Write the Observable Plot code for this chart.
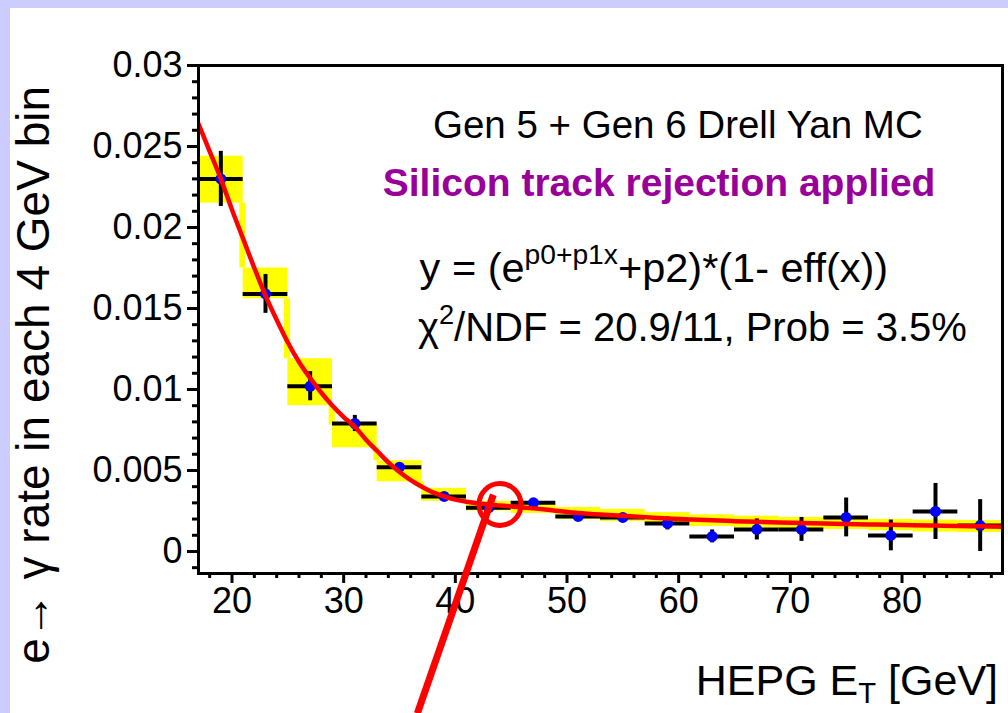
<!DOCTYPE html>
<html><head><meta charset="utf-8">
<script src="https://cdn.jsdelivr.net/npm/d3@7"></script>
<script src="https://cdn.jsdelivr.net/npm/@observablehq/plot@0.6"></script>
<style>
html,body{margin:0;padding:0}
body{background:#ccccff;width:1008px;height:713px;overflow:hidden;position:relative}
#panel{position:absolute;left:10px;top:8px;width:998px;height:705px;background:#fff}
#panel svg{overflow:visible}
</style></head><body><div id="panel"></div>
<script>
// ---- data ----
const binCenters = [19, 23, 27, 31, 35, 39, 43, 47, 51, 55, 59, 63, 67, 71, 75, 79, 83, 87];
const binHalfWidth = 2;
const rates      = [0.0230, 0.0159, 0.0102, 0.0079, 0.0052, 0.0034, 0.0027, 0.0030, 0.00216, 0.0021, 0.00173, 0.00093, 0.00136, 0.00136, 0.0021, 0.00099, 0.00247, 0.0016];
const rateErrors = [0.0017, 0.0012, 0.0009, 0.0005, 0.0002, 0.0002, 0.0002, 0.0002, 0.0002, 0.0002, 0.0004, 0.0004, 0.00065, 0.00074, 0.0012, 0.00095, 0.00173, 0.0016];
const bandLow  = [0.0215, 0.0156, 0.0090, 0.0064, 0.0043, 0.0031, 0.0025, 0.00235, 0.00198, 0.00185, 0.00167, 0.00154, 0.00146, 0.00142, 0.00136, 0.00128, 0.00120, 0.00117];
const bandHigh = [0.0244, 0.0175, 0.0119, 0.0078, 0.0056, 0.0039, 0.0031, 0.00295, 0.00272, 0.00260, 0.00240, 0.00226, 0.00218, 0.00210, 0.00204, 0.00198, 0.00194, 0.00191];
const fitX = [17, 18, 19, 20, 21, 22, 23, 24, 25, 26, 27, 28, 29, 30, 31, 32, 33, 34, 35, 36, 37, 38, 39, 40, 41, 42, 43, 44, 45, 46, 47, 49, 51, 53, 55, 57, 59, 61, 63, 65, 67, 69, 71, 73, 75, 77, 79, 81, 83, 85, 87, 89];
const fitY = [0.0264, 0.0247, 0.0230, 0.0211, 0.0193, 0.0175, 0.0158, 0.0143, 0.0129, 0.0117, 0.0107, 0.0098, 0.0090, 0.0083, 0.0077, 0.0069, 0.0062, 0.0055, 0.0049, 0.0044, 0.0040, 0.00365, 0.0034, 0.0032, 0.00307, 0.00298, 0.0029, 0.00284, 0.00278, 0.00272, 0.00266, 0.00252, 0.00238, 0.00228, 0.0022, 0.00212, 0.00204, 0.00198, 0.00192, 0.00187, 0.00183, 0.00179, 0.00176, 0.00173, 0.0017, 0.00167, 0.00165, 0.00162, 0.0016, 0.00157, 0.00155, 0.00153];

const xTicks = [20, 30, 40, 50, 60, 70, 80];
const xTickLabels = ["20", "30", "40", "50", "60", "70", "80"];
const xMinorTicks = [18, 22, 24, 26, 28, 32, 34, 36, 38, 42, 44, 46, 48, 52, 54, 56, 58, 62, 64, 66, 68, 72, 74, 76, 78, 82, 84, 86, 88];
const yTicks = [0, 0.005, 0.01, 0.015, 0.02, 0.025, 0.03];
const yTickLabels = ["0", "0.005", "0.01", "0.015", "0.02", "0.025", "0.03"];
const yMinorTicks = [-0.001, 0.001, 0.002, 0.003, 0.004, 0.006, 0.007, 0.008, 0.009, 0.011, 0.012, 0.013, 0.014, 0.016, 0.017, 0.018, 0.019, 0.021, 0.022, 0.023, 0.024, 0.026, 0.027, 0.028, 0.029];

const xLabel = "HEPG E_{T} [GeV]";
const yLabel = "e\u2192 \u03b3 rate in each 4 GeV bin";
const noteTexts = ["Gen 5 + Gen 6 Drell Yan MC", "Silicon track rejection applied", "y = (e^{p0+p1x}+p2)*(1- eff(x))", "\u03c7^{2}/NDF = 20.9/11, Prob = 3.5%"];
const noteX = [38.0, 33.5, 36.8, 36.65];
const noteY = [0.0263, 0.0227, 0.01747, 0.01377];
// annotation (red circle + red stroke), data coordinates
const circleAt = [44.0, 0.0029];
const strokeFrom = [43.4, 0.00350];
const strokeTo = [36.6, -0.0100];
const yLabelAt = [2.3, 0.0109];
const xLabelAt = [88.6, -0.0080];

// ---- build tables ----
const bins = binCenters.map((c, i) => ({c, v: rates[i], e: rateErrors[i], lo: bandLow[i], hi: bandHigh[i]}));
const strips = [];
for (let i = 0; i + 1 < bins.length; i++) {
  const a = bins[i], b = bins[i + 1];
  if (a.lo > b.hi) strips.push({edge: a.c + binHalfWidth, y1: b.hi, y2: a.lo});
}
const fit = fitX.map((x, i) => ({x, y: fitY[i]}));
const notes = noteTexts.map((t, i) => ({t, x: noteX[i], y: noteY[i]}));
const note = (i, opts) => Plot.text([notes[i]], {x: "x", y: "y", text: "t", textAnchor: "start", ...opts});

const FONT = "Liberation Sans, Arial, Helvetica, sans-serif";
const chart = Plot.plot({
  width: 998, height: 705,
  marginLeft: 188, marginRight: 6, marginTop: 57, marginBottom: 140,
  style: {fontFamily: FONT, background: "transparent", color: "black", overflow: "visible"},
  x: {domain: [17, 89]},
  y: {domain: [-0.00136, 0.03]},
  marks: [
    Plot.rect(bins, {x1: d => d.c - binHalfWidth, x2: d => d.c + binHalfWidth, y1: "lo", y2: "hi", fill: "#ffff00"}),
    Plot.rect(strips, {x1: d => d.edge - 0.3, x2: d => d.edge + 0.25, y1: "y1", y2: "y2", fill: "#ffff00"}),
    Plot.ruleY(bins, {y: "v", x1: d => d.c - binHalfWidth, x2: d => d.c + binHalfWidth, stroke: "black", strokeWidth: 4}),
    Plot.ruleX(bins, {x: "c", y1: d => d.v - d.e, y2: d => d.v + d.e, stroke: "black", strokeWidth: 4}),
    Plot.dot(bins, {x: "c", y: "v", r: 5.5, fill: "#0000ff", stroke: "none"}),
    Plot.line(fit, {x: "x", y: "y", stroke: "#ff0000", strokeWidth: 4.5, curve: "catmull-rom", clip: true}),
    Plot.frame({stroke: "black", strokeWidth: 3}),
    Plot.axisY({anchor: "left", ticks: yTicks, tickSize: 11, tickPadding: 5, strokeWidth: 3, fontSize: 36, label: null,
      tickFormat: d => yTickLabels[yTicks.indexOf(d)]}),
    Plot.axisY({anchor: "left", ticks: yMinorTicks, tickSize: 6, strokeWidth: 3, label: null, tickFormat: () => ""}),
    Plot.axisX({anchor: "bottom", ticks: xTicks, tickSize: 10, tickPadding: 4, strokeWidth: 3, fontSize: 36, label: null,
      tickFormat: d => xTickLabels[xTicks.indexOf(d)]}),
    Plot.axisX({anchor: "bottom", ticks: xMinorTicks, tickSize: 5, strokeWidth: 3, label: null, tickFormat: () => ""}),
    note(0, {fontSize: 38.5, fill: "black"}),
    note(1, {fontSize: 39, fill: "#990099", fontWeight: "bold"}),
    note(2, {fontSize: 41.5, fill: "black"}),
    note(3, {fontSize: 40, fill: "black"}),
    Plot.text([yLabel], {x: () => yLabelAt[0], y: () => yLabelAt[1], text: d => d, rotate: -90, fontSize: 46, textAnchor: "middle"}),
    Plot.text([xLabel], {x: () => xLabelAt[0], y: () => xLabelAt[1], text: d => d, fontSize: 43, textAnchor: "end"}),
    Plot.dot([circleAt], {x: d => d[0], y: d => d[1], r: 21, fill: "none", stroke: "#ff0000", strokeWidth: 5}),
    Plot.link([0], {x1: () => strokeFrom[0], y1: () => strokeFrom[1], x2: () => strokeTo[0], y2: () => strokeTo[1], stroke: "#ff0000", strokeWidth: 7})
  ]
});
document.getElementById("panel").appendChild(chart);

// superscript / subscript markup ^{..} and _{..}
chart.querySelectorAll("text").forEach(el => {
  const s = el.textContent;
  if (!/[\^_]\{/.test(s)) return;
  const fs = parseFloat(getComputedStyle(el).fontSize) || 37;
  while (el.firstChild) el.removeChild(el.firstChild);
  const ns = "http://www.w3.org/2000/svg";
  const re = /([\^_])\{([^}]*)\}/g;
  let last = 0, m, pending = 0;
  const add = (t, size, dy) => {
    const ts = document.createElementNS(ns, "tspan");
    ts.textContent = t;
    if (size) ts.setAttribute("font-size", size);
    if (dy) ts.setAttribute("dy", dy);
    el.appendChild(ts);
  };
  while ((m = re.exec(s))) {
    if (m.index > last) { add(s.slice(last, m.index), null, pending); pending = 0; }
    const shift = m[1] === "^" ? -0.42 * fs : 0.2 * fs;
    add(m[2], 0.68 * fs, pending + shift);
    pending = -shift;
    last = re.lastIndex;
  }
  if (last < s.length) add(s.slice(last), null, pending);
});
</script></body></html>
